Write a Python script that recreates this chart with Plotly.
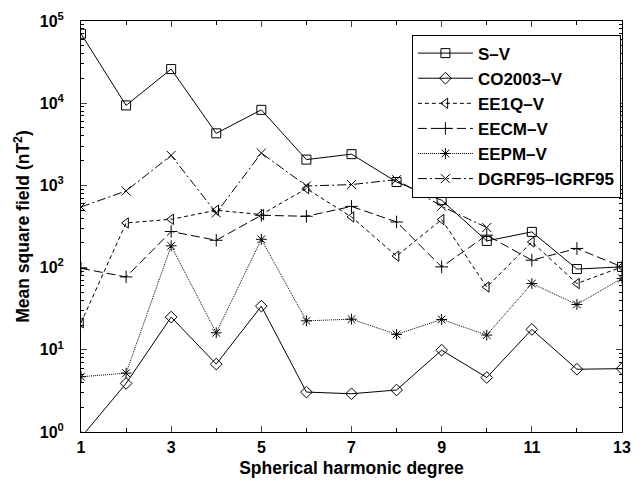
import plotly.graph_objects as go

degrees = list(range(1, 14))
sv = [7.0e4, 9.4e3, 2.6e4, 4.3e3, 8.3e3, 2.06e3, 2.4e3, 1.1e3, 660, 211, 272, 96, 102]
co2003 = [0.86, 3.9, 25, 6.7, 34, 3.06, 2.92, 3.24, 9.9, 4.6, 17.7, 5.8, 5.9]
ee1q = [21.3, 349, 387, 498, 442, 914, 413, 138, 384, 58, 205, 64, 102]
eecm = [98, 77, 275, 215, 433, 421, 555, 359, 102, 248, 123, 171, 102]
eepm = [4.7, 5.2, 184, 16.1, 221, 22.5, 23.6, 15.4, 23.4, 15.1, 64, 35.6, 74]
dgrf_deg = list(range(1, 11))
dgrf = [547, 855, 2320, 462, 2476, 984, 1023, 1175, 557, 307]

xticks = [1, 3, 5, 7, 9, 11, 13]
ytick_vals = [1, 10, 100, 1000, 10000, 100000]
ytick_text = ["10<sup>0</sup>", "10<sup>1</sup>", "10<sup>2</sup>", "10<sup>3</sup>",
              "10<sup>4</sup>", "10<sup>5</sup>"]

series = [
    ("S\u2013V", degrees, sv, "square-open", "solid"),
    ("CO2003\u2013V", degrees, co2003, "diamond-open", "solid"),
    ("EE1Q\u2013V", degrees, ee1q, "triangle-left-open", "4px,3px"),
    ("EECM\u2013V", degrees, eecm, "cross-thin-open", "9px,4px"),
    ("EEPM\u2013V", degrees, eepm, "asterisk-open", "1px,1px"),
    ("DGRF95\u2013IGRF95", dgrf_deg, dgrf, "x-thin-open", "9px,3px,2px,3px"),
]

fig = go.Figure()
for name, xs, ys, sym, dash in series:
    fig.add_trace(go.Scatter(
        x=xs, y=ys, name=name, mode="lines+markers",
        line=dict(color="black", width=1, dash=dash),
        marker=dict(symbol=sym, size=9, color="black",
                    line=dict(color="black", width=1)),
    ))

minor_y = []
for e in range(0, 5):
    for m in range(2, 10):
        minor_y.append(m * 10 ** e)

fig.update_layout(
    width=643, height=481,
    margin=dict(l=81, r=21, t=21, b=49, autoexpand=False),
    paper_bgcolor="white", plot_bgcolor="white",
    font=dict(family="Liberation Sans, Arial, sans-serif", size=16,
              color="black", weight="bold"),
    showlegend=True,
    legend=dict(x=0.998, y=0.967, xanchor="right", yanchor="top",
                bordercolor="black", borderwidth=1, bgcolor="white",
                font=dict(size=17, weight="bold"), tracegroupgap=0,
                itemwidth=55),
    xaxis=dict(
        range=[1, 13], tickvals=xticks, ticks="inside", ticklen=6,
        showline=True, linecolor="black", linewidth=1, mirror="ticks",
        showgrid=False, zeroline=False, automargin=False,
        ticklabelstandoff=1,
        minor=dict(tickvals=[2, 4, 6, 8, 10, 12], ticks="inside", ticklen=4,
                   tickcolor="black", showgrid=False),
        tickfont=dict(size=16),
        title=dict(text="Spherical harmonic degree", standoff=6,
                   font=dict(size=17.5)),
    ),
    yaxis=dict(
        type="log", range=[0, 5], tickvals=ytick_vals, ticktext=ytick_text,
        ticks="inside", ticklen=6, ticklabelstandoff=13,
        showline=True, linecolor="black", linewidth=1, mirror="ticks",
        showgrid=False, zeroline=False, automargin=False,
        minor=dict(tickvals=minor_y, ticks="inside", ticklen=3,
                   tickcolor="black", showgrid=False),
        tickfont=dict(size=16),
        title=dict(text="Mean square field (nT<sup>2</sup>)", standoff=5,
                   font=dict(size=17.5)),
    ),
)

fig.write_html("out.html", config={"displayModeBar": False},
               post_script="document.body.style.margin='0px';document.body.style.overflow='hidden';")
